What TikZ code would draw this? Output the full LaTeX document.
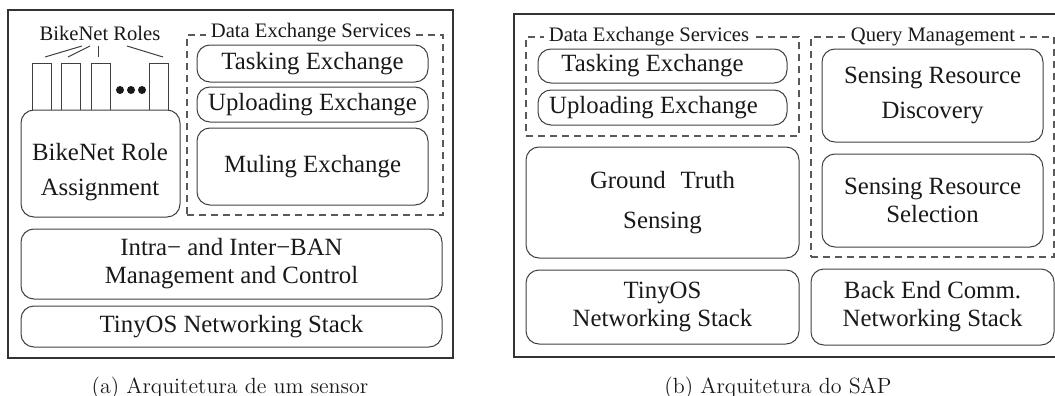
\documentclass[tikz,border=0pt]{standalone}
\usepackage{fontspec}
\newfontfamily\tnr{Liberation Serif}
\newcommand\boxfont{\tnr\fontsize{12.4}{14}\selectfont}
\newcommand\labfont{\tnr\fontsize{10.3}{12}\selectfont}
\newcommand\capfont{\fontsize{11}{13}\selectfont}
\begin{document}
\begin{tikzpicture}[x=0.5pt,y=-0.5pt,
  sz/.style 2 args={minimum width=#1*0.5pt, minimum height=#2*0.5pt},
  frame/.style={draw=black!80, line width=0.65pt, inner sep=0pt, outer sep=0pt},
  layer/.style={draw=black!75, line width=0.5pt, rounded corners=6.5pt,
    inner sep=0pt, outer sep=0pt, align=center, font=\boxfont, text=black!90},
  group/.style={draw=black!65, line width=0.6pt, dash pattern=on 3.5pt off 2.5pt,
    inner sep=0pt, outer sep=0pt},
  grouplabel/.style={fill=white, inner xsep=2.5pt, inner ysep=1pt, font=\labfont, text=black!90},
  rolebox/.style={draw=black!75, line width=0.5pt, fill=white, inner sep=0pt, sz={19}{47}},
  roledot/.style={circle, fill=black!90, inner sep=0pt, minimum size=4pt},
  capt/.style={font=\capfont, text=black!90},
  tie/.style={draw=black!75, line width=0.5pt}
]
\useasboundingbox (0,0) rectangle (1055,396);
\clip (0,0) rectangle (1055,396);

% ---------- (a) sensor architecture ----------
\node[frame, sz={445}{348}] (frameA) at (230.5,184) {};

% role slots above the assignment block
\node[rolebox] (r1) at (41.5,86.5) {};
\node[rolebox] (r2) at (71,86.5) {};
\node[rolebox] (r3) at (101,86.5) {};
\node[rolebox] (r4) at (159,86.5) {};
\node[roledot] (d1) at (120,90) {};
\node[roledot] (d2) at (131,90) {};
\node[roledot] (d3) at (142,90) {};

\node[font=\labfont, text=black!90] (roles) at (100,33) {BikeNet Roles};
\coordinate (t1a) at (82,46);  \coordinate (t1b) at (45,57);
\coordinate (t2a) at (90,46);  \coordinate (t2b) at (68,57);
\coordinate (t3a) at (98,46);  \coordinate (t3b) at (98,57);
\coordinate (t4a) at (127,46); \coordinate (t4b) at (163,57);
\draw[tie] (t1a) -- (t1b);
\draw[tie] (t2a) -- (t2b);
\draw[tie] (t3a) -- (t3b);
\draw[tie] (t4a) -- (t4b);

\node[layer, fill=white, sz={159}{107}] (assign) at (100.5,163.5) {};
\node[font=\boxfont, align=center, text=black!90] (assigntxt) at (100,172)
  {BikeNet Role\\[3.5pt]Assignment};

% data exchange services group
\node[group, sz={256}{180}] (desA) at (315,125) {};
\node[grouplabel] (desAlbl) at (311,33) {Data Exchange Services};
\node[layer, sz={231}{37}] (taskA) at (312.5,63.5) {Tasking Exchange};
\node[layer, sz={231}{35}] (upA) at (312.5,104.5) {Uploading Exchange};
\node[layer, sz={231}{77}] (muleA) at (312.5,166.5) {Muling Exchange};

\node[layer, sz={421}{70}] (ban) at (231.5,264)
  {Intra\char"2212{} and Inter\char"2212 BAN\\Management and Control};
\node[layer, sz={421}{41}] (tinyA) at (231.5,326.5) {TinyOS Networking Stack};

\node[capt] (capA) at (230,388) {(a) Arquitetura de um sensor};

% ---------- (b) SAP architecture ----------
\node[frame, sz={560}{343}] (frameB) at (794,185.5) {};

\node[group, sz={273}{99}] (desB) at (662.5,86.5) {};
\node[grouplabel] (desBlbl) at (649,37) {Data Exchange Services};
\node[layer, sz={249}{34}] (taskB) at (662.5,66) {Tasking Exchange\hspace*{10pt}};
\node[layer, sz={249}{35}] (upB) at (662.5,107.5) {Uploading Exchange\hspace*{9pt}};

\node[layer, sz={273}{111}] (truth) at (662.5,202.5)
  {Ground\hspace{0.6em}Truth\\[6pt]Sensing};
\node[layer, sz={273}{74}] (tinyB) at (662.5,307) {TinyOS\\Networking Stack};

\node[group, sz={243}{220}] (query) at (932.5,147) {};
\node[grouplabel] (querylbl) at (933,37) {Query Management};
\node[layer, sz={221}{93}] (disc) at (932.5,95.5) {Sensing Resource\\[3.5pt]Discovery};
\node[layer, sz={221}{93}] (sel) at (932.5,200.5) {Sensing Resource\\Selection};

\node[layer, sz={243}{76}] (backend) at (932.5,307) {Back End Comm.\\Networking Stack};

\node[capt] (capB) at (778,388) {(b) Arquitetura do SAP};
\end{tikzpicture}
\end{document}
